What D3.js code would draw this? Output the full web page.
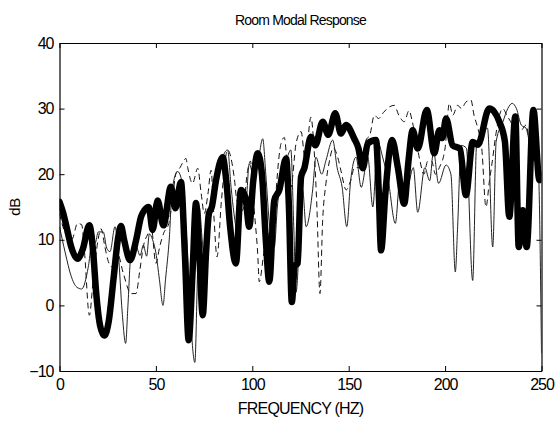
<!DOCTYPE html>
<html><head><meta charset="utf-8">
<script src="https://cdn.jsdelivr.net/npm/d3@7"></script>
<style>
html,body{margin:0;padding:0;background:#fff;}
svg{display:block;font-family:"Liberation Sans",Arial,sans-serif;}
</style></head>
<body><svg id="c" width="557" height="421"></svg>
<script>
// Frequency (Hz) / level (dB) pairs
const thickFreq = [0,2,4,6,9.4,12,15.5,17.5,19,21,23.2,25.5,28,30.5,31.9,33.5,36.6,39.7,42.3,44,46.3,48.3,50.9,53.9,57.8,60.1,63,65,67,69,70.8,72.5,74.3,76,77.5,79,81.2,84.6,86.5,88.5,91.5,94.1,96.4,98.4,100.5,102.8,105,107,108.8,111.4,114,117.5,119,120.5,122,123.5,125.3,127,130.4,132.7,136.5,139.4,143,146,148.6,152.9,155,157.3,159.9,164.2,165.5,166.8,169,172.5,175.5,178.8,181,183.2,185.8,190.5,194.4,197,198.5,200.5,203.9,207.7,210.8,214.3,217,222.9,225.5,228.1,231,233.3,236.4,238.2,240.3,242.3,245.8,248.9,250];
const thickDb   = [15.8,14.0,11.5,9.0,7.1,8.5,12.2,8,2,-3,-4.6,-2.5,4,10.5,12.1,10,6.9,9.9,13.5,14.5,15.0,11.5,16.0,12.2,18.1,14.8,18.8,8,-5.3,5,15.6,8,-1.5,8,14,15,19.1,22.6,19,12,6.4,17.6,16.5,12,19,23.2,20,10,3.6,16,17.6,22.4,15,0.5,6,6.4,19.6,20.9,25.7,24.4,28.0,26,29.3,26.2,27.5,25.4,24,20.9,24.7,25.2,18,8.4,17,25.2,21,15.5,22,26.7,23.9,29.8,23.2,26.7,25.5,28.5,24.4,23.9,16.8,24.9,24.5,30.0,29.5,28,25,13.5,28.8,8.9,14.5,8.9,29.8,19.1,20];

const thinFreq = [0,3,6,8.9,11.5,14.9,17.5,18.5,20.1,22.7,24.5,26.2,28.8,30.5,32.5,34.3,35.5,37.1,39.7,41.8,43.5,45.2,46.6,48.3,50,51.8,53.7,55,57,58.4,61.3,63,64.5,66,68,70.2,71.5,72.5,74,75.5,77,79,81,84.6,87.2,89,90.5,92.4,95,96.5,98.4,100.5,103,105.4,107,109,111.4,113,115.8,118,120,121.5,122.7,124.5,126.1,127.9,131.3,133,136,138.2,141.7,144,146.6,149,151,153.8,156.5,159.9,162.5,165,167.6,170.5,174.2,176.5,180,183.5,185.8,189.5,192,194,196.6,200.5,203,205.3,206.5,208.3,211,214.3,216.4,219,222,224.7,226.5,230,232.5,234.8,237,239.5,242,244,246,248.5,250];
const thinDb   = [12.0,8,4.5,2.8,2.5,5.8,10.9,9.5,11.2,11.2,8.7,8.2,12,8,-1,-5.8,0,7.9,9,7.6,9.2,7.5,10.9,10,8,4,0,4,10.4,17.6,20.4,19.5,16,10,-2,-8.7,4,15,10,5,13,16,18,22.6,23.7,18,14,11,16.5,15,21.6,20,22,25.4,20,12,8.9,15,20.9,22.5,23.7,12,2,10,17.6,12,17.6,22.6,20,22.1,25.2,21,18,12,19,22.6,18,22.6,15,25,22.6,19.1,12.5,19,17.5,21,14.2,21,19,23.5,18.6,21.4,20,5.1,12,24.4,24,3.8,24.9,26,27,8.9,25,28,30,30.8,30,27.5,27,25,28,20,-7.3];

const dashFreq = [0,3,6.3,9.4,11.5,13,15.5,17.5,20,21.5,23.5,25,27,30,33,37.1,39.7,41.5,43.5,46,47.5,50,52,54,56.7,58.5,60.4,62.5,65.6,66.5,69,71.7,73.5,75.1,77,78.6,80,81.7,84,87.2,90.7,92,95,97.6,99,101,102.8,103.6,106,108,110.6,112,114.9,116.6,118.5,120,122.7,125.3,127.5,130.4,132,133.5,135.1,136.5,138.2,140,142,144.3,146,148.7,151,153,155.9,159,161,163.3,165.5,168,171.4,173.6,176,178.8,181.3,183,185,187,189,191,193,195,197,200,202.2,204,206.5,208.5,210.8,213.4,215,217,219,221.2,223,224.5,226.4,229.9,232,234,236,239.4,242,244,246];
const dashDb   = [14,11,10,12.5,12.3,8,-1.5,4,10,11.7,9,7,5.9,8,5,1.8,1.8,5,9,11,12,6.4,9,11,12.5,16,20.1,21,22.4,21,18.6,20.9,17,14,17,20.6,14,7.4,16,23.7,19.3,16,14.5,20.6,22,14.5,7.9,3.6,8,11,9.4,16,24.7,25.6,20,18,24.7,26.5,22,28.7,24,15,1.8,13,18.6,22,24,22.6,20.5,17.6,19,21,21,25.2,26,29,28.5,29.4,30.3,30.5,29,28,29.7,28,25,22,20,22,22,20,21,24,30.8,29,30.5,30,31.0,31.3,29,27,24,15,19,22,26.2,30,29,28,27,26.7,27.5,24,22];

const xTicks = [0,50,100,150,200,250];
const yTicks = [-10,0,10,20,30,40];

const svg = d3.select("#c");
const L = 59.5, R = 541.5, T = 43, B = 371;
const x = d3.scaleLinear().domain([0,250]).range([L,R]);
const y = d3.scaleLinear().domain([-10,40]).range([B,T]);

svg.append("defs").append("clipPath").attr("id","pc")
  .append("rect").attr("x",L).attr("y",T).attr("width",R-L).attr("height",B-T);

const line = d3.line().x(d=>x(d[0])).y(d=>y(d[1])).curve(d3.curveMonotoneX);
const g = svg.append("g").attr("clip-path","url(#pc)");
const zip = (a,b)=>a.map((v,i)=>[v,b[i]]);

g.append("path").datum(zip(dashFreq,dashDb)).attr("d",line)
  .attr("fill","none").attr("stroke","#111").attr("stroke-width",1).attr("stroke-dasharray","6,4");
g.append("path").datum(zip(thinFreq,thinDb)).attr("d",line)
  .attr("fill","none").attr("stroke","#222").attr("stroke-width",1);
g.append("path").datum(zip(thickFreq,thickDb)).attr("d",line)
  .attr("fill","none").attr("stroke","#000").attr("stroke-width",6.5).attr("stroke-linejoin","round").attr("stroke-linecap","round");

// axes (MATLAB style box, inward ticks)
const fs = "16px";
const ax = svg.append("g").attr("transform",`translate(0,${B})`)
  .call(d3.axisBottom(x).tickValues(xTicks).tickSizeInner(-5).tickSizeOuter(0).tickPadding(8));
const axT = svg.append("g").attr("transform",`translate(0,${T})`)
  .call(d3.axisTop(x).tickValues(xTicks).tickSizeInner(-5).tickSizeOuter(0).tickFormat(""));
const ay = svg.append("g").attr("transform",`translate(${L},0)`)
  .call(d3.axisLeft(y).tickValues(yTicks).tickSizeInner(-5).tickSizeOuter(0).tickPadding(6));
const ayR = svg.append("g").attr("transform",`translate(${R},0)`)
  .call(d3.axisRight(y).tickValues(yTicks).tickSizeInner(-5).tickSizeOuter(0).tickFormat(""));
[ax,axT,ay,ayR].forEach(a=>{
  a.select(".domain").attr("stroke","#000").attr("stroke-width",1.2);
  a.selectAll(".tick line").attr("stroke","#000");
  a.selectAll("text").attr("font-family","'Liberation Sans',Arial,sans-serif")
    .attr("font-size",fs).attr("fill","#000").attr("letter-spacing","-1px");
});

svg.append("text").attr("x",(L+R)/2).attr("y",25).attr("text-anchor","middle")
  .attr("font-size","14px").attr("letter-spacing","-0.8px").text("Room Modal Response");
svg.append("text").attr("x",(L+R)/2).attr("y",414).attr("text-anchor","middle")
  .attr("font-size","16px").attr("letter-spacing","-0.8px").text("FREQUENCY (HZ)");
svg.append("text").attr("transform","translate(20,207) rotate(-90)").attr("text-anchor","middle")
  .attr("font-size","15px").attr("letter-spacing","-0.5px").text("dB");
</script></body></html>
